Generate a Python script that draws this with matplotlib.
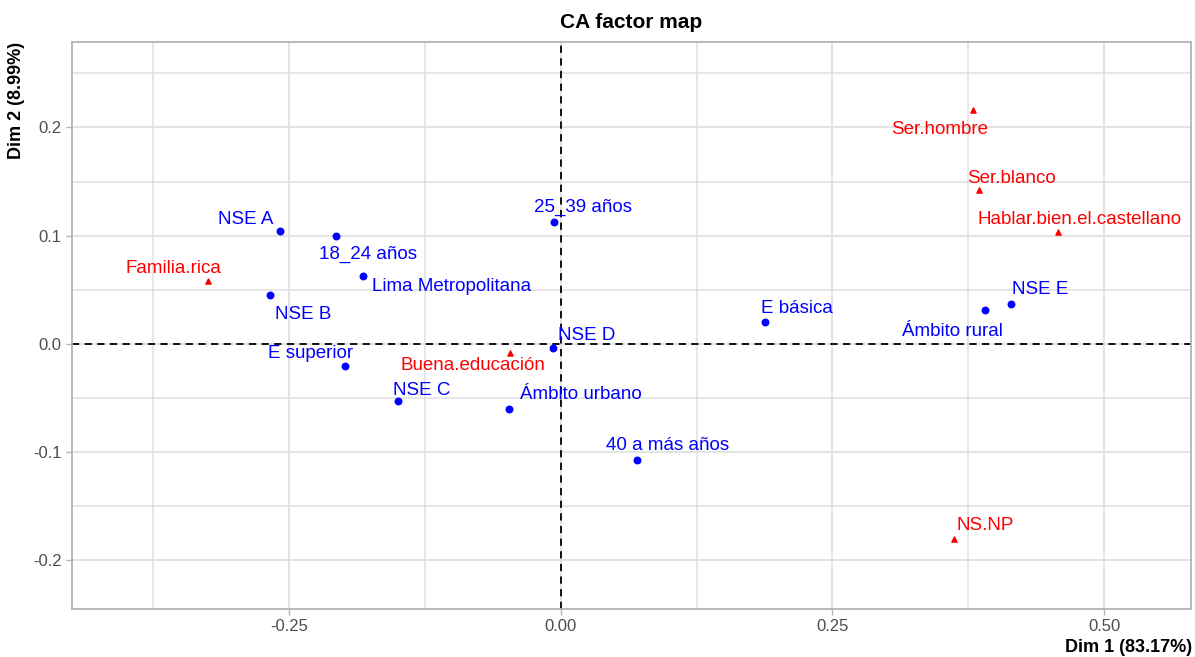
import matplotlib
matplotlib.use("Agg")
import matplotlib.pyplot as plt
from matplotlib.ticker import FixedLocator

plt.rcParams["font.family"] = ["Liberation Sans", "DejaVu Sans"]

# row categories (blue dots)
row_names = ["NSE A", "18_24 años", "Lima Metropolitana", "NSE B", "25_39 años",
             "E superior", "NSE C", "Ámbito urbano", "NSE D", "40 a más años",
             "E básica", "Ámbito rural", "NSE E"]
row_x = [-0.259, -0.207, -0.182, -0.268, -0.006, -0.199, -0.150, -0.048, -0.007,
         0.070, 0.188, 0.390, 0.414]
row_y = [0.104, 0.100, 0.063, 0.045, 0.113, -0.020, -0.053, -0.060, -0.004,
         -0.107, 0.020, 0.031, 0.037]

# column categories (red triangles)
col_names = ["Familia.rica", "Buena.educación", "Ser.hombre", "Ser.blanco",
             "Hablar.bien.el.castellano", "NS.NP"]
col_x = [-0.325, -0.047, 0.379, 0.385, 0.458, 0.362]
col_y = [0.058, -0.008, 0.216, 0.142, 0.103, -0.180]

# label offsets in pixels (repel-like placement)
row_off = [(-34, 12), (32, -19), (88, -11), (33, -19), (29, 14), (-34, 12),
           (24, 11), (72, 14), (33, 13), (31, 14), (32, 14), (-32, -21), (30, 14)]
col_off = [(-34, 13), (-37, -13), (-33, -19), (32, 12), (21, 13), (31, 13)]

fig = plt.figure(figsize=(11.95, 6.57), dpi=100)
ax = fig.add_axes([72 / 1195, 1 - 609 / 657, (1191 - 72) / 1195, (609 - 42) / 657])

grid_col = "#E0E0E0"
ax.set_xlim(-0.450, 0.580)
ax.set_ylim(-0.245, 0.279)
ax.xaxis.set_major_locator(FixedLocator([-0.25, 0, 0.25, 0.5]))
ax.xaxis.set_minor_locator(FixedLocator([-0.375, -0.125, 0.125, 0.375]))
ax.yaxis.set_major_locator(FixedLocator([-0.2, -0.1, 0, 0.1, 0.2]))
ax.yaxis.set_minor_locator(FixedLocator([-0.15, -0.05, 0.05, 0.15, 0.25]))
ax.set_xticklabels(["-0.25", "0.00", "0.25", "0.50"])
ax.set_yticklabels(["-0.2", "-0.1", "0.0", "0.1", "0.2"])
ax.grid(True, which="major", color=grid_col, lw=1.3)
ax.grid(True, which="minor", color=grid_col, lw=1.1)
ax.set_axisbelow(True)
ax.tick_params(which="major", colors="#B3B3B3", length=4, width=1,
               labelcolor="#4D4D4D", labelsize=12)
ax.tick_params(which="minor", length=0)
for s in ax.spines.values():
    s.set_color("#B3B3B3")
    s.set_linewidth(1.3)

ax.axhline(0, color="black", ls=(0, (4, 3)), lw=1.3)
ax.axvline(0, color="black", ls=(0, (4, 3)), lw=1.3)

ax.scatter(row_x, row_y, color="blue", s=22, marker="o", zorder=3)
ax.scatter(col_x, col_y, color="red", s=14, marker="^", zorder=3)

for name, x, y, (dx, dy) in zip(row_names, row_x, row_y, row_off):
    ax.annotate(name, (x, y), xytext=(dx, dy), textcoords="offset pixels",
                ha="center", va="center", color="blue", fontsize=13.5)
for name, x, y, (dx, dy) in zip(col_names, col_x, col_y, col_off):
    ax.annotate(name, (x, y), xytext=(dx, dy), textcoords="offset pixels",
                ha="center", va="center", color="red", fontsize=13.5)

fig.text(631 / 1195, 1 - 22 / 657, "CA factor map", ha="center", va="center",
         fontsize=15, fontweight="bold")
fig.text(1192 / 1195, 1 - 648 / 657, "Dim 1 (83.17%)", ha="right", va="center",
         fontsize=13, fontweight="bold")
fig.text(17 / 1195, 1 - 42 / 657, "Dim 2 (8.99%)", ha="center", va="top",
         rotation=90, fontsize=13, fontweight="bold")

fig.savefig("out.png", dpi=100)
